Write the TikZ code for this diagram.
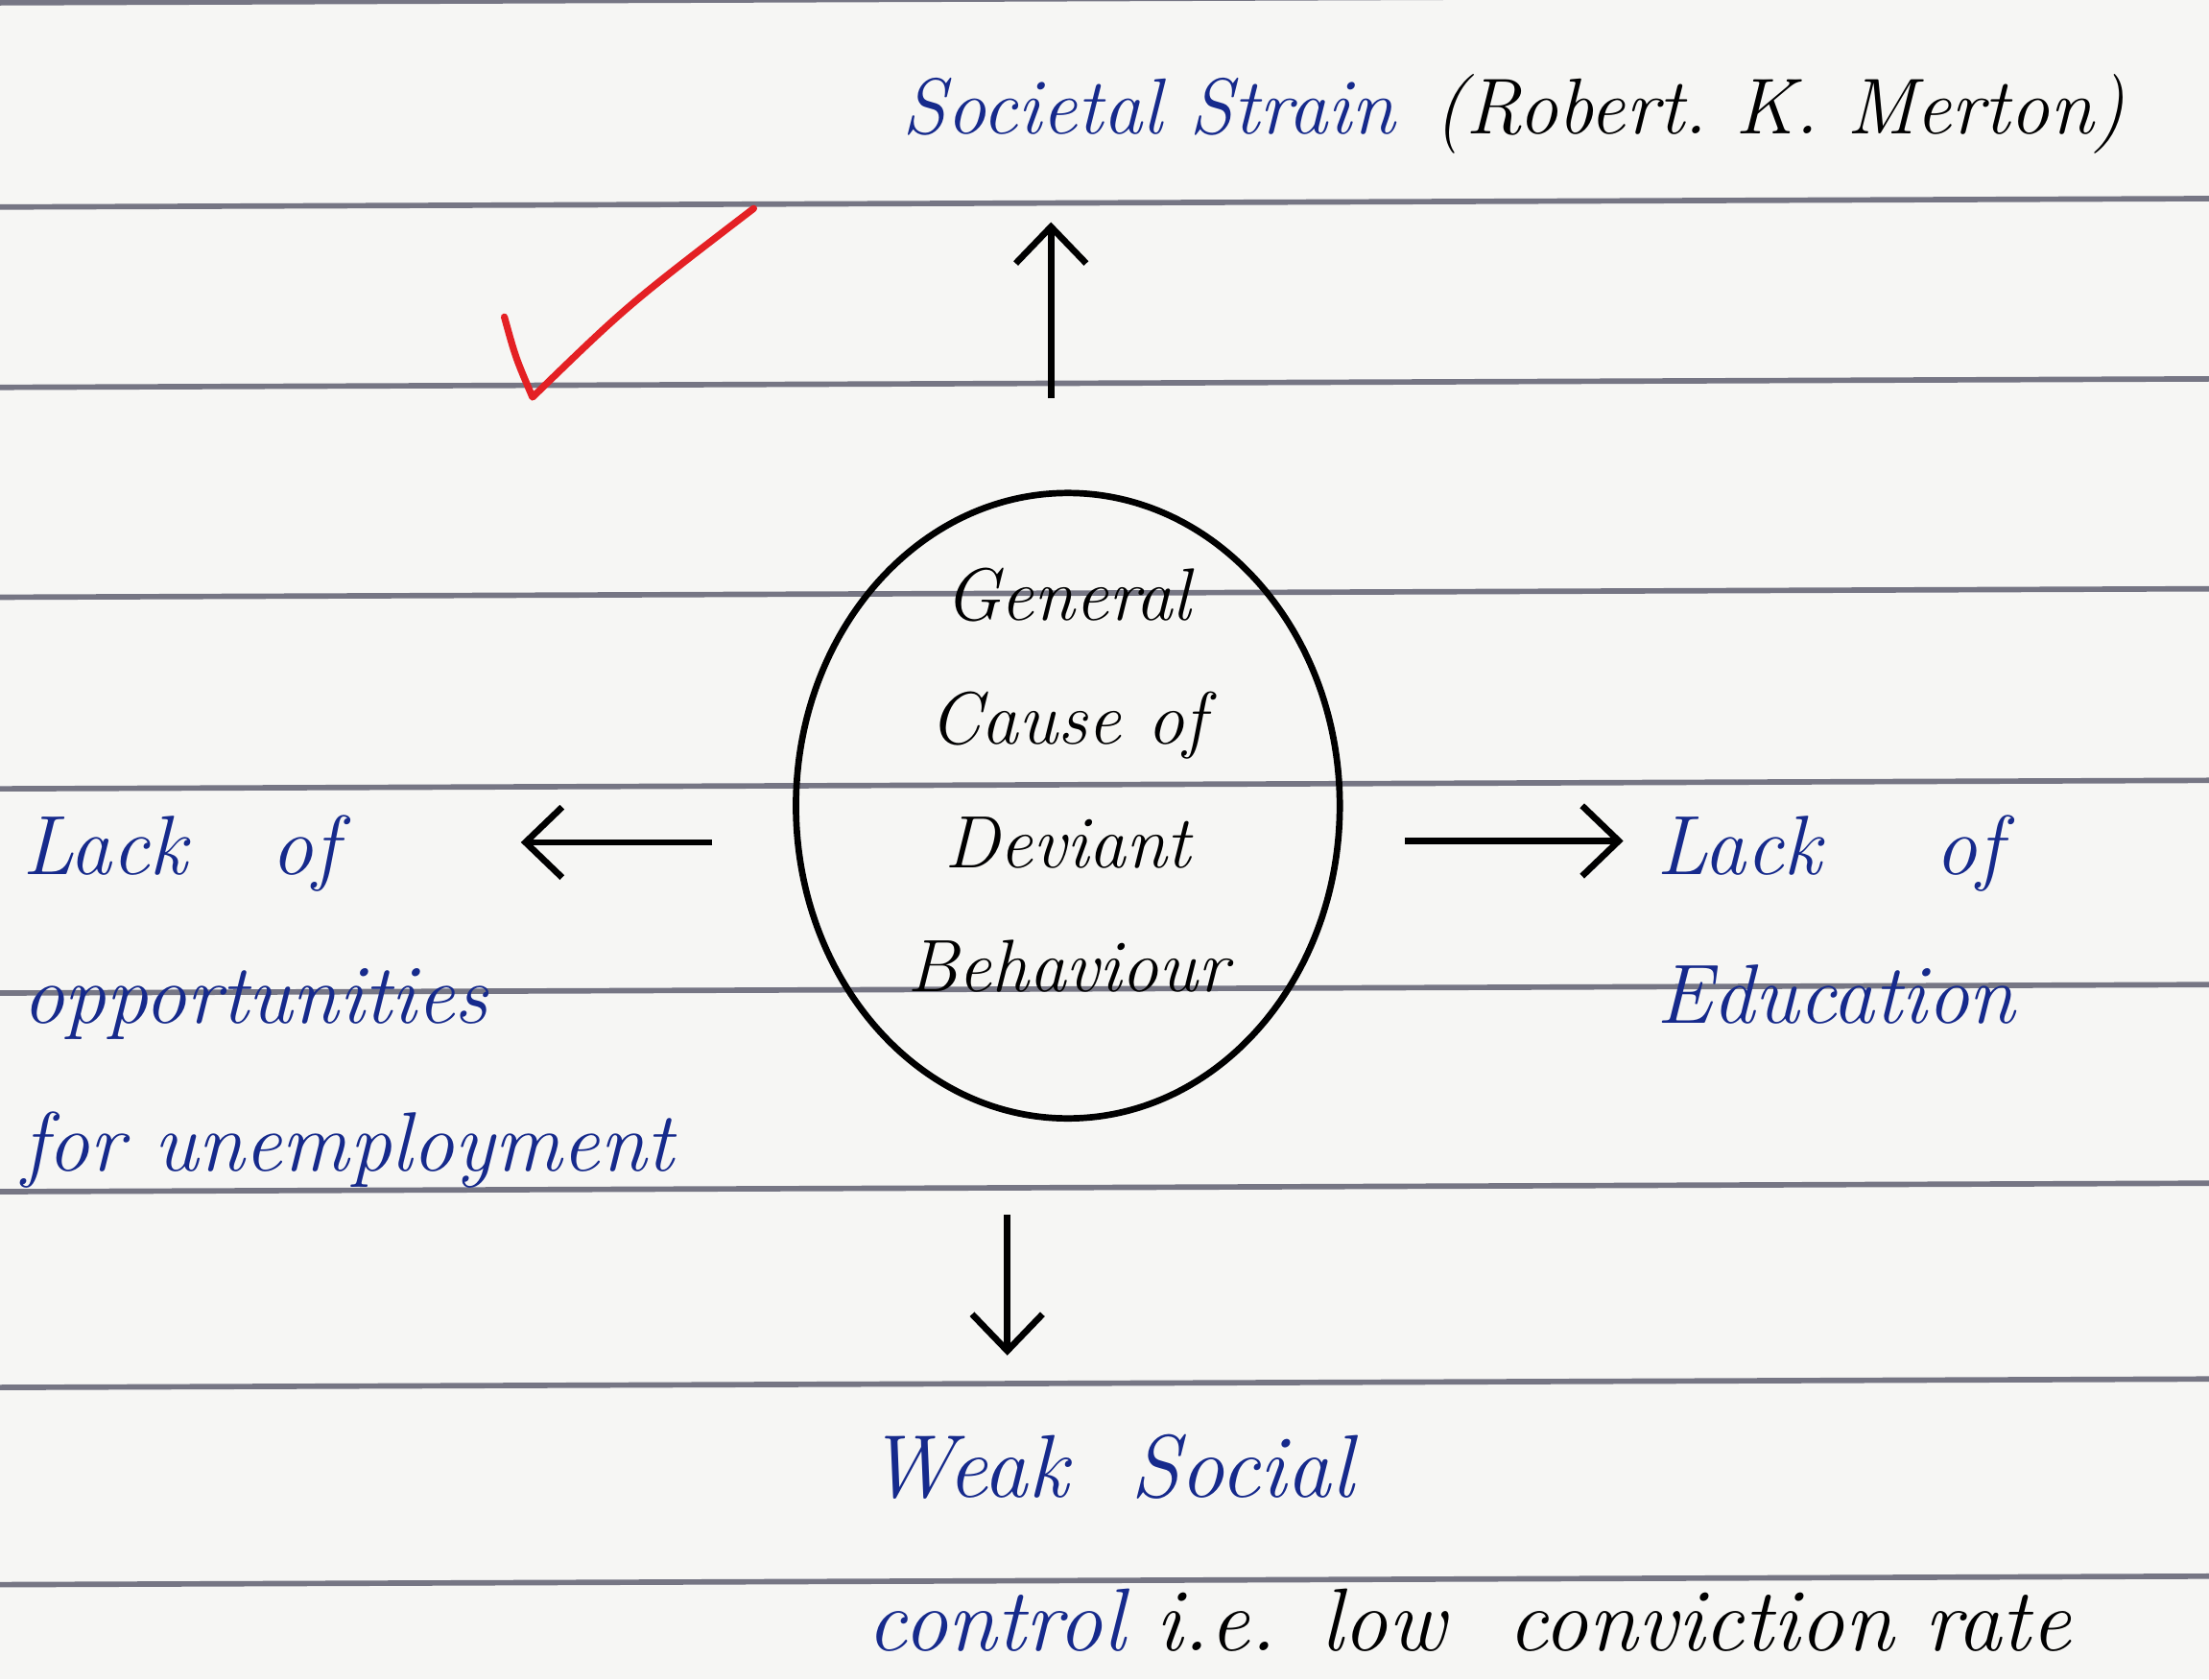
\documentclass[tikz,border=0pt]{standalone}
\usepackage{tikz}
\usetikzlibrary{arrows.meta,shapes.geometric}
\definecolor{paper}{RGB}{246,246,244}
\definecolor{ruling}{RGB}{118,118,132}
\definecolor{ink}{RGB}{22,42,140}
\definecolor{tick}{RGB}{228,32,36}
\begin{document}
\begin{tikzpicture}[
  ruled/.style={ruling,line width=1.1pt},
  arr/.style={line width=1.3pt,-{Straight Barb[length=2.6mm,width=5mm]}},
  hand/.style={font=\fontsize{17}{30}\selectfont\itshape,inner sep=0pt},
  ]
  \useasboundingbox (0,0) rectangle (15.68,11.92);
  \fill[paper] (0,0) rectangle (15.68,11.92);
  \foreach \y in {11.90,10.45,9.17,7.68,6.32,4.87,3.46,2.07,0.67}
    \draw[ruled] (0,\y) -- (15.68,\y+0.06);
  \node (cause) [draw,ellipse,line width=1.3pt,minimum width=3.86cm,minimum height=4.44cm,inner sep=0pt] at (7.58,6.20) {};
  \node (causetext) [align=center,inner sep=0pt,font=\fontsize{15}{25}\selectfont\itshape] at ([yshift=1.8mm]cause.center)
    {General\\Cause of\\Deviant\\Behaviour};
  \node (strain) [hand,font=\fontsize{16}{30}\selectfont\itshape,anchor=base west] at (6.40,10.97) {{\color{ink}Societal Strain}\enspace(Robert.\ K.\ Merton)};
  \node (lackopp) [hand,ink,anchor=north west,align=left] at (0.15,6.14) {Lack\quad of\\opportunities\\for unemployment};
  \node (lackedu) [hand,ink,anchor=north west,align=left] at (11.75,6.14) {Lack\quad\ of\\Education};
  \node (weak) [hand,font=\fontsize{18}{31}\selectfont\itshape,anchor=north west,align=left] at (6.15,1.74) {{\color{ink}Weak\ \ Social}\\{\color{ink}control} i.e.\enspace low\ \ conviction rate};
  \draw[arr,shorten <=6.5mm] ([xshift=-1.2mm]cause.north) -- ++(0,1.90);
  \draw[arr,shorten <=5.7mm] ([yshift=-2.6mm]cause.west) -- ++(-1.93,0);
  \draw[arr,shorten <=4.4mm] ([yshift=-2.5mm]cause.east) -- ++(1.99,0);
  \draw[arr,shorten <=6.6mm] ([xshift=-4.3mm]cause.south) -- ++(0,-1.66);
  \draw[tick,line width=1.4pt,line join=round,line cap=round] (3.58,9.67) .. controls (3.66,9.38) .. (3.78,9.10) .. controls (4.45,9.75) .. (5.35,10.44);
\end{tikzpicture}
\end{document}
